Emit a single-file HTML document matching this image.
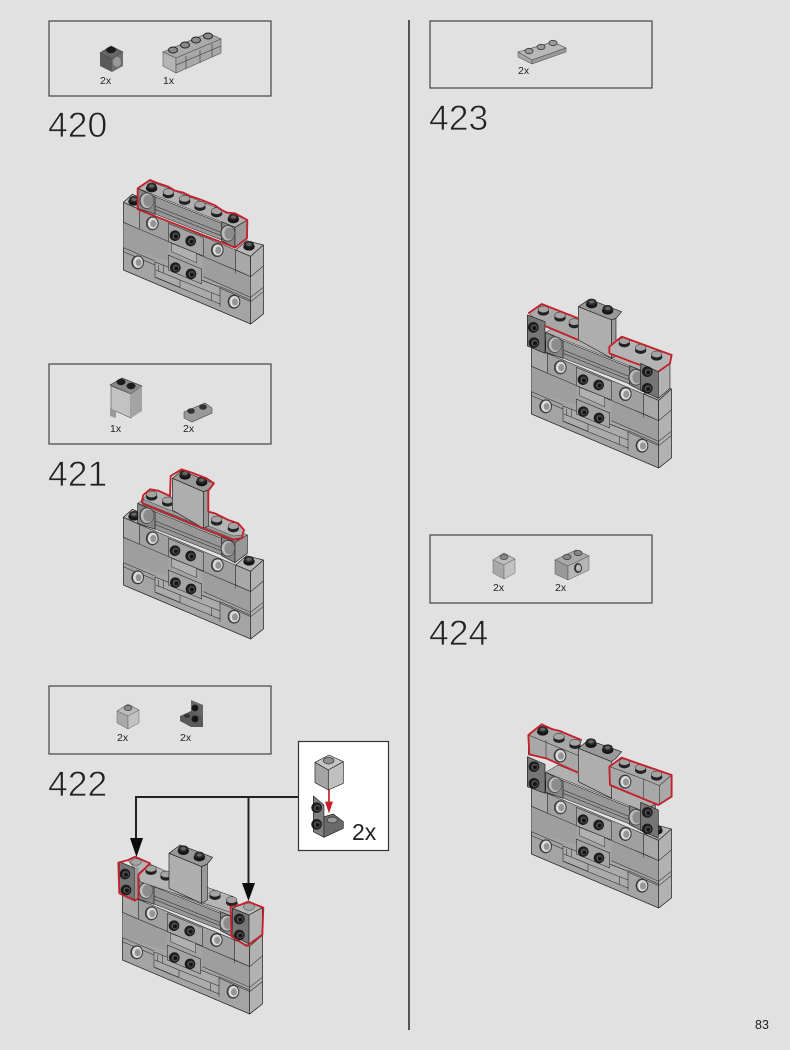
<!DOCTYPE html>
<html><head><meta charset="utf-8"><style>
html,body{margin:0;padding:0;background:#e1e1e1}
svg{display:block;filter:blur(.35px)}
text{font-family:"Liberation Sans",sans-serif}
.h{font-size:35.500px;fill:#222;stroke:#e1e1e1;stroke-width:.75px}
.q{font-size:10.5px;fill:#222}
.b{fill:none;stroke:#444;stroke-width:1.2}
.e{stroke:#222;stroke-width:2;stroke-linejoin:round}
.l{stroke:#2a2a2a;stroke-width:1.6;fill:none}
.r{fill:none;stroke:#c4202a;stroke-width:5.5;stroke-linejoin:round}
</style></head><body>
<svg width="790" height="1050" viewBox="0 0 790 1050" xmlns="http://www.w3.org/2000/svg">
<defs>
<g id="sg"><ellipse cy="6" rx="17" ry="11" fill="#222"/><ellipse cy="-2" rx="16" ry="10" fill="#a4a4a4" stroke="#222" stroke-width="1.5"/></g>
<g id="sk"><ellipse cy="5" rx="17" ry="12" fill="#151515"/><ellipse cy="-2" rx="15" ry="10" fill="#2a2a2a"/><ellipse cy="-2" rx="8" ry="5" fill="#666"/></g>
<g id="fk"><circle r="16" fill="#1c1c1c"/><circle r="10" cx="2" cy="1" fill="#505050"/><circle r="6" cx="3" cy="2" fill="#141414"/></g>
<g id="ho"><ellipse rx="19" ry="21" fill="#3a3a3a"/><ellipse rx="15" ry="17" cx="1" fill="#dadada"/><ellipse rx="9" ry="11" cx="3" cy="1" fill="#959595"/></g>
<g id="hd"><ellipse rx="22" ry="25" fill="#4a4a4a"/><ellipse rx="19" ry="22" cx="1" fill="#bcbcbc"/><ellipse rx="15" ry="18" cx="5" fill="#8c8c8c"/></g>

<g id="base">
<polygon class="e" points="70,97 97,73 137,90 137,190 452,259 490,225 490,432 452,462 70,300" fill="#a4a4a4"/>
<polygon class="e" points="70,97 118,118 118,178 70,157" fill="#a8a8a8"/>
<polygon class="e" points="70,97 97,73 145,94 118,118" fill="#b8b8b8"/>
<polygon class="e" points="407,240 452,259 452,320 407,300" fill="#a8a8a8"/>
<polygon class="e" points="407,240 440,212 490,225 452,259" fill="#b8b8b8"/>
<polygon class="e" points="452,259 490,225 490,432 452,462" fill="#b2b2b2"/>
<polygon points="118,118 407,240 407,300 118,178" fill="#a0a0a0" stroke="#222" stroke-width="1.6"/>
<polygon points="70,157 205,213 205,272 70,233" fill="#9e9e9e"/>
<polygon points="310,257 452,320 452,382 310,322" fill="#9e9e9e"/>
<path class="l" d="M70,157 452,320M70,233 165,273M70,245 165,285M310,320 452,382M310,332 452,395M360,350 452,390M360,400 360,410M452,259V462M452,320 490,288M452,382 490,352M452,395 490,365M407,300V310M70,300 452,462"/>
<polygon points="165,276 360,352 360,402 165,322" fill="#ababab" stroke="#222" stroke-width="1.6"/>
<path class="l" d="M168,300 240,330V352M240,330 335,368V392M190,285V308M335,368 360,378M175,285V305M240,352 168,322"/>
<polygon points="205,160 310,203 310,258 205,215" fill="#a4a4a4" stroke="#222" stroke-width="1.6"/>
<polygon points="215,220 290,250 290,278 215,245" fill="#b0b0b0" stroke="#222" stroke-width="1.4"/>
<polygon points="205,255 305,297 305,342 205,300" fill="#a4a4a4" stroke="#222" stroke-width="1.6"/>
<use href="#fk" x="225" y="197"/><use href="#fk" x="272" y="213"/><use href="#fk" x="226" y="293"/><use href="#fk" x="273" y="312"/>
<use href="#ho" x="157" y="160"/><use href="#ho" x="352" y="240"/><use href="#ho" x="113" y="277"/><use href="#ho" x="402" y="395"/>
<use href="#sk" x="102" y="90"/><use href="#sk" x="447" y="225"/>
<polygon points="113,55 150,33 442,150 405,172" fill="#b0b0b0" stroke="#222" stroke-width="1.5"/>
<polygon points="165,80 365,160 365,210 165,132" fill="#979797" stroke="#222" stroke-width="1.6"/>
<path class="l" d="M165,108 365,188M165,118 365,198"/>
<polygon class="e" points="113,55 165,80 165,133 113,115" fill="#868686"/>
<use href="#hd" x="140" y="92"/>
<polygon class="e" points="365,155 405,172 405,233 365,212" fill="#868686"/>
<polygon class="e" points="405,172 442,150 442,205 405,233" fill="#999"/>
<use href="#hd" x="383" y="190"/>
</g>
</defs>
<rect width="790" height="1050" fill="#e1e1e1"/>

<!-- divider -->
<rect x="408" y="20" width="2" height="1010" fill="#555"/>
<!-- boxes -->
<rect class="b" x="49" y="21" width="222" height="75"/>
<rect class="b" x="49" y="364" width="222" height="80"/>
<rect class="b" x="49" y="686" width="222" height="68"/>
<rect class="b" x="430" y="21" width="222" height="67"/>
<rect class="b" x="430" y="535" width="222" height="68"/>

<!-- headings -->
<text class="h" x="48" y="137">420</text>
<text class="h" x="48" y="486">421</text>
<text class="h" x="48" y="796">422</text>
<text class="h" x="429" y="130">423</text>
<text class="h" x="429" y="645">424</text>
<text x="755" y="1029" font-size="12.5" fill="#222">83</text>

<!-- parts box 1 -->
<polygon points="100,53 111,46 123,52 112,59" fill="#666" stroke="#333" stroke-width=".6"/>
<polygon points="100,53 112,59 112,72 100,66" fill="#5a5a5a"/>
<polygon points="112,59 123,52 123,66 112,72" fill="#6e6e6e"/>
<ellipse cx="111" cy="50" rx="5" ry="3.2" fill="#1c1c1c"/>
<ellipse cx="117" cy="62" rx="4" ry="5" fill="#999"/>
<text class="q" x="100" y="84">2x</text>
<polygon points="163,52 208,33 221,39 176,58" fill="#aaa" stroke="#444" stroke-width=".6"/>
<polygon points="163,52 176,58 176,73 163,66" fill="#b5b5b5" stroke="#555" stroke-width=".6"/>
<polygon points="176,58 221,39 221,53 176,73" fill="#a8a8a8" stroke="#555" stroke-width=".6"/>
<path d="M176,65 221,46M186,56V69M200,50V63M212,44V57" stroke="#555" stroke-width=".8" fill="none"/>
<g fill="#8a8a8a" stroke="#222" stroke-width="1"><ellipse cx="173" cy="50" rx="4.5" ry="3"/><ellipse cx="185" cy="45" rx="4.5" ry="3"/><ellipse cx="196" cy="40" rx="4.5" ry="3"/><ellipse cx="208" cy="36" rx="4.5" ry="3"/></g>
<text class="q" x="163" y="84">1x</text>

<!-- parts box 2 -->
<polygon points="110,385 122,378 142,386 131,394" fill="#8a8a8a" stroke="#333" stroke-width=".6"/>
<polygon points="111,386 131,394 131,418 111,409" fill="#c2c2c2" stroke="#555" stroke-width=".6"/>
<polygon points="131,394 142,386 142,411 131,418" fill="#a4a4a4"/>
<polygon points="110,408 116,411 116,418 110,416" fill="#999"/>
<ellipse cx="121" cy="382" rx="4.5" ry="3.2" fill="#1c1c1c"/><ellipse cx="131" cy="386" rx="4.5" ry="3.2" fill="#1c1c1c"/>
<text class="q" x="110" y="432">1x</text>
<polygon points="184,412 205,403 212,408 212,413 192,422 184,418" fill="#999" stroke="#444" stroke-width=".6"/>
<ellipse cx="191" cy="411" rx="3.8" ry="2.8" fill="#333"/><ellipse cx="203" cy="407" rx="3.8" ry="2.8" fill="#333"/>
<text class="q" x="183" y="432">2x</text>

<!-- parts box 3 -->
<polygon points="117,711 128,704 139,710 128,716" fill="#bcbcbc" stroke="#666" stroke-width=".6"/>
<polygon points="117,711 128,716 128,729 117,723" fill="#a9a9a9" stroke="#666" stroke-width=".5"/>
<polygon points="128,716 139,710 139,723 128,729" fill="#c2c2c2" stroke="#666" stroke-width=".5"/>
<ellipse cx="128" cy="708" rx="4" ry="2.6" fill="#888" stroke="#444" stroke-width=".7"/>
<text class="q" x="117" y="741">2x</text>
<polygon points="191,700 203,705 203,727 191,722" fill="#666"/>
<polygon points="180,716 191,711 203,717 203,727 191,727 180,721" fill="#5a5a5a"/>
<circle cx="195" cy="708" r="3.4" fill="#151515"/><circle cx="195" cy="719" r="3.4" fill="#151515"/>
<ellipse cx="187" cy="716" rx="3" ry="2" fill="#333"/>
<text class="q" x="180" y="741">2x</text>

<!-- parts box 4 -->
<polygon points="518,52 553,42 566,48 532,60" fill="#b8b8b8" stroke="#444" stroke-width=".6"/>
<polygon points="518,52 532,60 532,64 518,57" fill="#a6a6a6" stroke="#444" stroke-width=".5"/>
<polygon points="532,60 566,48 566,52 532,64" fill="#999" stroke="#444" stroke-width=".5"/>
<g fill="#9a9a9a" stroke="#333" stroke-width=".8"><ellipse cx="529" cy="51" rx="4" ry="2.7"/><ellipse cx="541" cy="47" rx="4" ry="2.7"/><ellipse cx="553" cy="43" rx="4" ry="2.7"/></g>
<text class="q" x="518" y="74">2x</text>

<!-- parts box 5 -->
<polygon points="493,560 504,553 515,559 504,565" fill="#bcbcbc" stroke="#666" stroke-width=".6"/>
<polygon points="493,560 504,565 504,579 493,573" fill="#a9a9a9" stroke="#666" stroke-width=".5"/>
<polygon points="504,565 515,559 515,573 504,579" fill="#c2c2c2" stroke="#666" stroke-width=".5"/>
<ellipse cx="504" cy="557" rx="4" ry="2.6" fill="#888" stroke="#444" stroke-width=".7"/>
<text class="q" x="493" y="591">2x</text>
<polygon points="555,560 576,550 589,556 568,566" fill="#aaa" stroke="#555" stroke-width=".6"/>
<polygon points="555,560 568,566 568,580 555,574" fill="#999" stroke="#555" stroke-width=".5"/>
<polygon points="568,566 589,556 589,570 568,580" fill="#b5b5b5" stroke="#555" stroke-width=".5"/>
<ellipse cx="578" cy="568" rx="4" ry="5" fill="#333"/><ellipse cx="578.5" cy="568" rx="2.6" ry="3.4" fill="#bbb"/>
<ellipse cx="567" cy="557" rx="4" ry="2.6" fill="#888" stroke="#333" stroke-width=".7"/><ellipse cx="578" cy="553" rx="4" ry="2.6" fill="#888" stroke="#333" stroke-width=".7"/>
<text class="q" x="555" y="591">2x</text>

<!-- STEP 420 -->
<g transform="translate(100,170) scale(.3333)">
<use href="#base"/>
<use href="#sg" x="205" y="68"/><use href="#sg" x="254" y="88"/><use href="#sg" x="300" y="106"/><use href="#sg" x="350" y="125"/>
<use href="#sk" x="155" y="50"/><use href="#sk" x="400" y="143"/>
<path class="r" d="M113,55 150,30 175,40 205,50 225,62 250,68 270,78 300,88 320,96 345,106 365,120 380,128 405,130 442,150 441,205 405,233 113,118Z"/>
</g>

<!-- STEP 421 -->
<g transform="translate(100,460) scale(.3333)">
<use href="#base" y="75"/>
<path d="M125,125 150,88 175,92 215,112 325,155 345,160 385,180 415,190 432,210 425,235 400,240 130,130Z" fill="#b4b4b4" stroke="#222" stroke-width="1.5"/>
<polygon points="128,128 400,236 425,233 428,225 400,228 130,118" fill="#9a9a9a" stroke="#222" stroke-width="1.2"/>
<use href="#sg" x="155" y="105"/><use href="#sg" x="203" y="123"/><use href="#sg" x="350" y="180"/><use href="#sg" x="400" y="200"/>
<polygon class="e" points="217,55 245,32 342,70 325,90 310,95" fill="#999"/>
<polygon class="e" points="217,55 310,95 310,205 217,150" fill="#aeaeae"/>
<polygon class="e" points="310,95 325,90 325,198 310,205" fill="#9a9a9a"/>
<use href="#sk" x="255" y="42"/><use href="#sk" x="305" y="62"/>
<path class="r" d="M125,125 130,105 150,88 175,92 210,108 212,48 245,28 275,38 320,55 342,70 325,92 325,155 345,160 385,180 415,190 432,210 425,235 400,240 310,205 130,132Z"/>
</g>

<!-- STEP 422 -->
<g transform="translate(100,740) scale(.3333)">
<use href="#base" x="-3" y="360"/>
<path d="M110,385 150,372 200,395 330,445 400,470 420,500 400,520 120,425Z" fill="#b4b4b4" stroke="#222" stroke-width="1.5"/>
<use href="#sg" x="153" y="388"/><use href="#sg" x="198" y="405"/><use href="#sg" x="345" y="463"/><use href="#sg" x="395" y="482"/>
<polygon class="e" points="207,340 240,315 338,352 322,372 305,380" fill="#999"/>
<polygon class="e" points="207,340 305,380 305,490 207,445" fill="#aeaeae"/>
<polygon class="e" points="305,380 322,372 322,480 305,490" fill="#9a9a9a"/>
<use href="#sk" x="250" y="328"/><use href="#sk" x="298" y="347"/>
<polygon points="85,362 105,350 150,370 115,400" fill="#b4b4b4" stroke="#222" stroke-width="1.5"/>
<ellipse cx="108" cy="366" rx="16" ry="10" fill="#a4a4a4" stroke="#333" stroke-width="1.5"/>
<polygon class="e" points="58,365 105,385 105,480 58,460" fill="#767676"/>
<polygon points="105,385 115,380 115,473 105,480" fill="#999"/>
<use href="#fk" x="75" y="402"/><use href="#fk" x="78" y="450"/>
<path class="r" d="M55,368 85,360 105,350 150,370 115,405 115,475 105,482 58,460Z"/>
<polygon class="e" points="397,505 445,485 487,503 447,525" fill="#b8b8b8"/>
<ellipse cx="447" cy="500" rx="17" ry="11" fill="#a4a4a4" stroke="#333" stroke-width="1.5"/>
<polygon class="e" points="397,505 447,525 447,612 397,585" fill="#767676"/>
<polygon class="e" points="447,525 487,503 487,582 447,612" fill="#b2b2b2"/>
<use href="#fk" x="418" y="537"/><use href="#fk" x="418" y="585"/>
<path class="r" d="M392,500 420,495 445,485 490,503 487,585 440,618 395,590Z"/>
</g>

<!-- connector -->
<path d="M298,797H136V838M248.500,797V883" fill="none" stroke="#222" stroke-width="2"/>
<polygon points="130,838 143,838 136.500,857" fill="#0c0c0c"/>
<polygon points="242,883 255,883 248.500,901" fill="#0c0c0c"/>

<!-- callout -->
<rect x="298.500" y="741.500" width="90" height="109" fill="#fff" stroke="#333" stroke-width="1.2"/>
<g transform="translate(100,740) scale(.3333)">
<polygon class="e" points="645,67 687,45 730,65 685,90" fill="#c6c6c6"/>
<polygon class="e" points="645,67 685,90 685,150 645,128" fill="#a4a4a4"/>
<polygon class="e" points="685,90 730,65 730,130 685,150" fill="#c0c0c0"/>
<ellipse cx="686" cy="62" rx="16" ry="10" fill="#8f8f8f" stroke="#333" stroke-width="2"/>
<polygon class="e" points="640,168 672,195 672,292 640,275" fill="#808080"/>
<polygon class="e" points="672,230 700,222 730,245 730,265 672,292" fill="#6a6a6a"/>
<ellipse cx="697" cy="240" rx="15" ry="9" fill="#999" stroke="#333" stroke-width="2"/>
<use href="#fk" x="650" y="203"/><use href="#fk" x="650" y="253"/>
<path d="M687,150V190" stroke="#c4202a" stroke-width="5"/>
<polygon points="675,185 699,185 687,220" fill="#c4202a"/>
</g>
<text x="352" y="840" font-size="23" fill="#222">2x</text>

<!-- STEP 423 -->
<g transform="translate(510,290) scale(.3333)">
<use href="#base" x="-6" y="72"/>
<polygon points="55,70 95,42 205,85 205,150 105,108" fill="#a8a8a8" stroke="#222" stroke-width="1.5"/>
<use href="#sg" x="100" y="60"/><use href="#sg" x="150" y="78"/><use href="#sg" x="193" y="98"/>
<polygon class="e" points="205,50 238,28 335,65 318,85 305,90" fill="#999"/>
<polygon class="e" points="205,50 305,90 305,205 205,150" fill="#aeaeae"/>
<polygon class="e" points="305,90 318,85 318,198 305,205" fill="#9a9a9a"/>
<use href="#sk" x="245" y="38"/><use href="#sk" x="293" y="57"/>
<polygon class="e" points="52,75 105,95 105,190 52,168" fill="#767676"/>
<use href="#fk" x="70" y="112"/><use href="#fk" x="72" y="158"/>
<path class="r" d="M55,70 95,42 205,85M105,108 205,150"/>
<polygon points="298,170 335,140 485,195 480,220 445,245 298,190" fill="#b4b4b4" stroke="#222" stroke-width="1.5"/>
<use href="#sg" x="343" y="155"/><use href="#sg" x="392" y="175"/><use href="#sg" x="440" y="195"/>
<polygon class="e" points="392,220 445,245 445,325 392,300" fill="#767676"/>
<polygon class="e" points="445,245 480,220 480,295 445,325" fill="#b2b2b2"/>
<use href="#fk" x="412" y="245"/><use href="#fk" x="412" y="295"/>
<path class="r" d="M298,190 298,170 335,140 485,195 480,220 445,245M298,190 390,225"/>
</g>

<!-- STEP 424 -->
<g transform="translate(510,715) scale(.3333)">
<use href="#base" x="-6" y="117"/>
<polygon points="55,60 95,28 215,75 205,100 205,175 108,130 55,120" fill="#a8a8a8" stroke="#222" stroke-width="1.5"/>
<path class="l" d="M108,75V130M55,60 205,122"/>
<use href="#sk" x="98" y="45"/><use href="#sg" x="147" y="67"/><use href="#sg" x="195" y="85"/>
<use href="#ho" x="150" y="122"/>
<polygon class="e" points="205,100 235,75 335,110 318,130 305,140" fill="#999"/>
<polygon class="e" points="205,100 305,140 305,250 205,200" fill="#aeaeae"/>
<use href="#sk" x="243" y="82"/><use href="#sk" x="293" y="100"/>
<polygon points="298,155 335,128 485,180 485,245 445,270 300,210" fill="#a8a8a8" stroke="#222" stroke-width="1.5"/>
<path class="l" d="M300,155 400,192V250M400,192 448,212V268M448,212 485,180"/>
<use href="#sg" x="343" y="143"/><use href="#sg" x="392" y="160"/><use href="#sg" x="440" y="180"/>
<use href="#ho" x="345" y="200"/>
<polygon class="e" points="52,125 105,148 105,235 52,215" fill="#767676"/>
<use href="#fk" x="72" y="155"/><use href="#fk" x="72" y="205"/>
<polygon class="e" points="392,262 445,285 445,370 392,345" fill="#767676"/>
<use href="#fk" x="412" y="292"/><use href="#fk" x="412" y="342"/>
<path class="r" d="M58,118 55,60 95,28 125,42 150,48 190,65 215,75M58,118 108,130 205,173"/>
<path class="r" d="M298,155 335,128 375,142 485,180 485,245 445,270 300,210Z"/>
</g>
</svg>
</body></html>
